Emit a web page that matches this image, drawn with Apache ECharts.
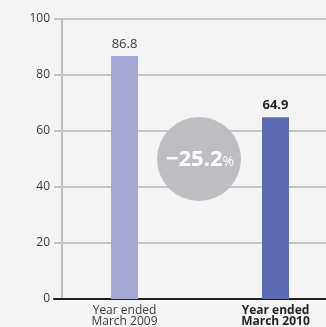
<!DOCTYPE html>
<html>
<head>
<meta charset="utf-8">
<script src="https://cdn.jsdelivr.net/npm/echarts@6/dist/echarts.min.js"></script>
<style>
  html, body { margin: 0; padding: 0; background: #f4f4f4; }
  #chart { width: 326px; height: 327px; }
</style>
</head>
<body>
<div id="chart"></div>
<script>
// Fiscal-year comparison
const categories = ['Year ended\nMarch 2009', 'Year ended\nMarch 2010'];
const values = [86.8, 64.9];
const barColors = ['#a5a8d6', '#5b6ab2'];
const yTicks = [0, 20, 40, 60, 80, 100];

const change = (values[1] - values[0]) / values[0] * 100;
const changeText = (change < 0 ? '\u2212' : '+') + Math.abs(change).toFixed(1);

const FONT = '"Open Sans", "Noto Sans", sans-serif';
const chart = echarts.init(document.getElementById('chart'), null, { renderer: 'canvas' });

chart.setOption({
  backgroundColor: '#f4f4f4',
  animation: false,
  grid: [
    { left: 54, right: 0, top: 19, bottom: 28, outerBoundsMode: 'none' },
    { left: 49, width: 302, top: 19, bottom: 28, outerBoundsMode: 'none' }
  ],
  xAxis: [
    {
      gridIndex: 0, type: 'category', data: categories,
      axisLine: { show: true, lineStyle: { color: '#231f20', width: 2 } },
      axisTick: { show: false }, axisLabel: { show: false }, splitLine: { show: false }
    },
    {
      gridIndex: 1, type: 'category', data: categories,
      axisLine: { show: false }, axisTick: { show: false },
      axisLabel: {
        margin: 6,
        interval: 0,
        fontFamily: FONT,
        formatter: (v, i) => (i === categories.length - 1 ? '{b|' + v.replace('\n', '}\n{b|') + '}' : '{r|' + v.replace('\n', '}\n{r|') + '}'),
        rich: {
          r: { fontFamily: FONT, fontSize: 12, lineHeight: 11, color: '#3a3a3a' },
          b: { fontFamily: FONT, fontSize: 12, lineHeight: 11, color: '#231f20', fontWeight: 'bold' }
        }
      }
    }
  ],
  yAxis: [
    {
      gridIndex: 0, type: 'value', min: yTicks[0], max: yTicks[yTicks.length - 1], interval: 20,
      offset: -8,
      axisLine: { show: true, lineStyle: { color: '#bdbdbf', width: 2 } },
      axisTick: { show: false },
      axisLabel: { margin: 12, fontFamily: FONT, fontSize: 12, color: '#3a3a3a' },
      splitLine: { show: true, lineStyle: { color: '#c4c4c6', width: 2 } }
    },
    {
      gridIndex: 1, type: 'value', min: yTicks[0], max: yTicks[yTicks.length - 1], interval: 20,
      show: false, splitLine: { show: false }
    }
  ],
  series: [
    {
      type: 'bar', xAxisIndex: 1, yAxisIndex: 1,
      barWidth: 27,
      z: 5,
      data: values.map((v, i) => ({
        value: v,
        itemStyle: { color: barColors[i] },
        label: {
          show: true, position: 'top', distance: 5,
          fontFamily: FONT, fontSize: 13,
          color: i === values.length - 1 ? '#231f20' : '#3a3a3a',
          fontWeight: i === values.length - 1 ? 'bold' : 'normal'
        }
      }))
    }
  ],
  graphic: [
    {
      type: 'circle', z: 10,
      shape: { cx: 199, cy: 159, r: 42 },
      style: { fill: '#bdbec1' }
    },
    {
      type: 'text', z: 11,
      x: 200, y: 160,
      style: {
        text: '{n|' + changeText + '}{p|%}',
        align: 'center', verticalAlign: 'middle',
        rich: {
          n: { fontFamily: FONT, fontSize: 22, fontWeight: 'bold', fill: '#ffffff' },
          p: { fontFamily: FONT, fontSize: 14, fill: '#ffffff', padding: [5, 0, 0, 0] }
        }
      }
    }
  ]
});
</script>
</body>
</html>
